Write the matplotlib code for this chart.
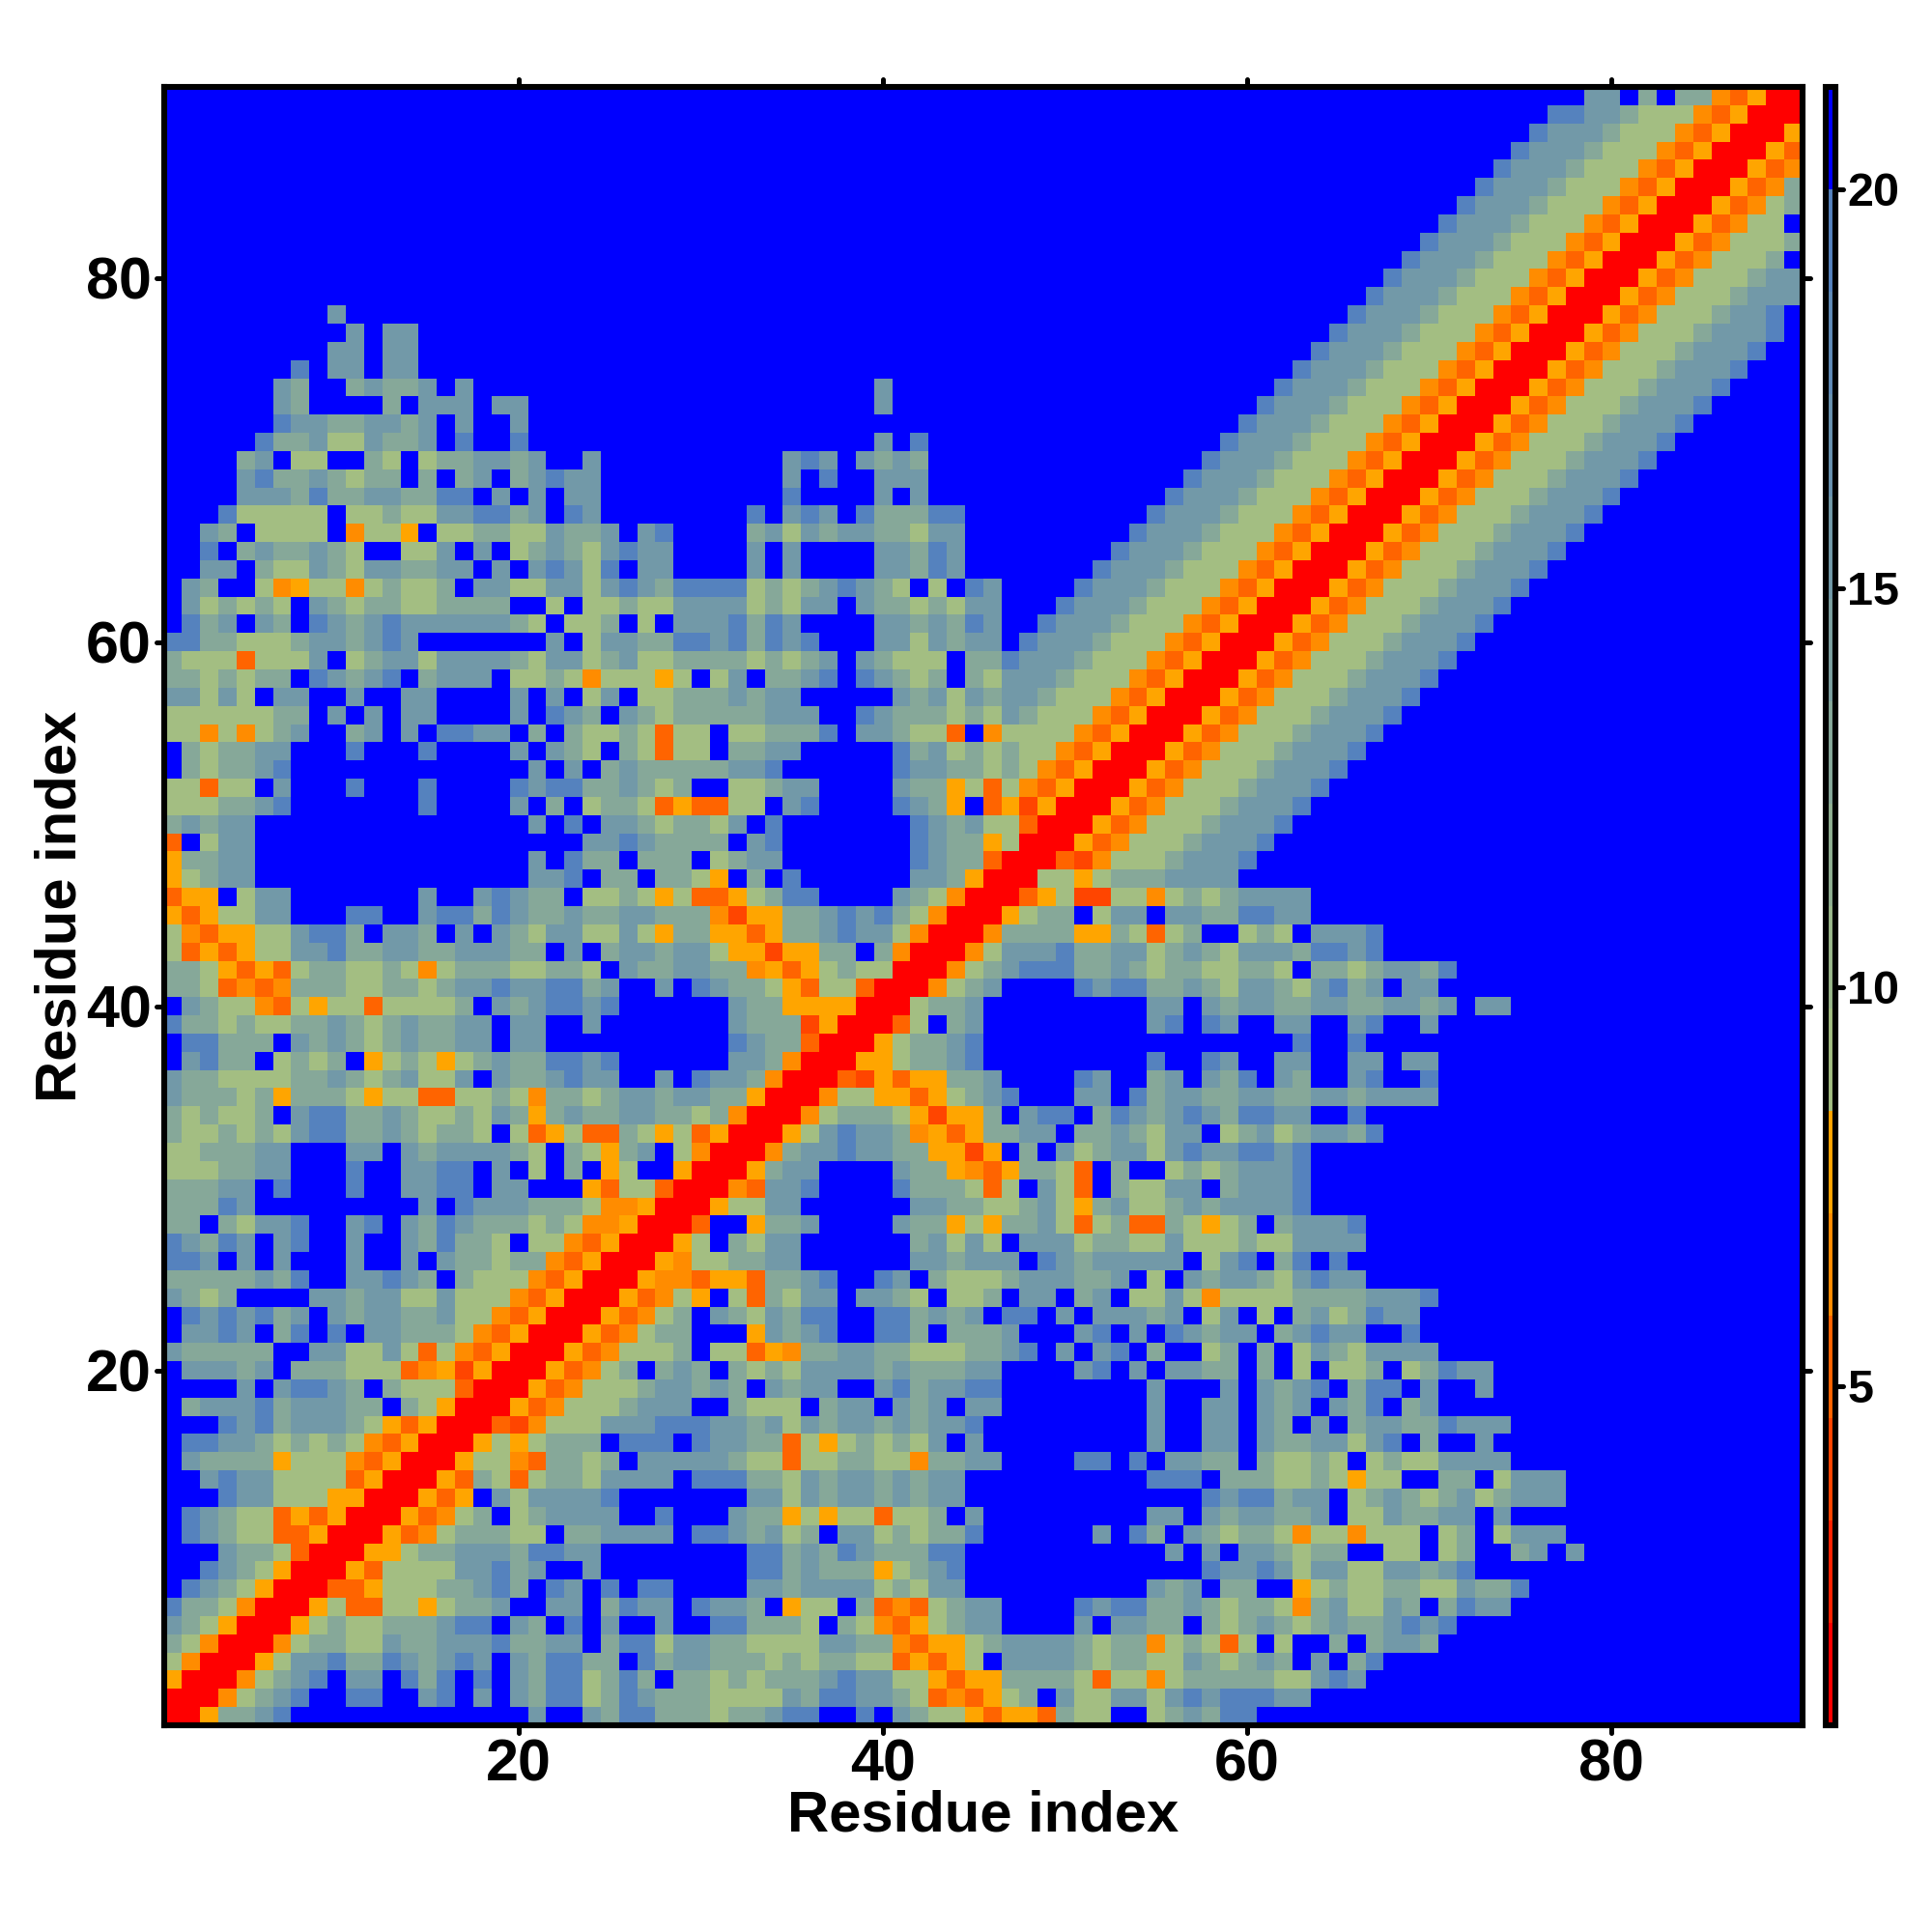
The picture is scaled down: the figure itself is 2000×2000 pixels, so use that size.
import numpy as np
import matplotlib
matplotlib.use("Agg")
import matplotlib.pyplot as plt
from matplotlib.colors import ListedColormap, BoundaryNorm
from matplotlib.markers import MarkerStyle, TICKUP, TICKDOWN, TICKLEFT, TICKRIGHT

plt.rcParams['font.family'] = ['Liberation Sans', 'DejaVu Sans']
plt.rcParams['font.weight'] = 'bold'

AXIS_LABEL = "Residue index"
TICKS = [20, 40, 60, 80]
CBAR_TICKS = [5, 10, 15, 20]
Z_MIN, Z_MAX = 0.75, 21.28
BAND_COLORS = ['#FF0000', '#FF2200', '#FF4500', '#FF6400', '#FF8C00', '#FFA500',
               '#A3BE82', '#99B78A', '#8FAF91', '#86A899', '#7CA0A0', '#7299A8',
               '#6891AF', '#5F8AB7', '#5582BE', '#0000FF']
# distance read for each symbol of the matrix below
CELL_VALUES = {'R': 1.4, 'x': 4.0, 'o': 5.2, 'O': 6.5, 'y': 7.8,
               'g': 9.1, 'h': 12.9, 'm': 15.5, 'k': 19.3, '.': 20.6}

# one line per residue, top line = residue 90; groups of ten cells, "_" = ten cells of '.'
CONTACT_ROWS = [
"_ _ _ _ _ _ _ ........mm .h.hhOoyRR",
"_ _ _ _ _ _ _ ......kkmm hgggOoyRRR",
"_ _ _ _ _ _ _ .....kmmmh gggOoyRRRy",
"_ _ _ _ _ _ _ ....kmmmhg ggOoyRRRyo",
"_ _ _ _ _ _ _ ...kmmmhgg gOoyRRRyoO",
"_ _ _ _ _ _ _ ..kmmmhggg OoyRRRyoOh",
"_ _ _ _ _ _ _ .kmmmhgggO oyRRRyoOgh",
"_ _ _ _ _ _ _ kmmmhgggOo yRRRyoOgg.",
"_ _ _ _ _ _ .........k mmmhgggOoy RRRyoOgggh",
"_ _ _ _ _ _ ........km mmhgggOoyR RRyoOgggh.",
"_ _ _ _ _ _ .......kmm mhgggOoyRR RyoOggghmm",
"_ _ _ _ _ _ ......kmmm hgggOoyRRR yoOggghmmm",
".........m _ _ _ _ _ .....kmmmh gggOoyRRRy oOggghmmk.",
"_ m.mm...... _ _ _ _ ....kmmmhg ggOoyRRRyo Oggghmmmk.",
".........m m.mm...... _ _ _ _ ...kmmmhgg gOoyRRRyoO ggghmmmk..",
".......k.m m.mm...... _ _ _ _ ..kmmmhggg OoyRRRyoOg gghmmmk...",
"......mh.. hmhhm.m... _ .........m _ _ .kmmmhgggO oyRRRyoOgg ghmmmk....",
"......mh.. ..h.mmm.mm _ .........m _ _ kmmmhgggOo yRRRyoOggg hmmmk.....",
"......kmmh hmmhm.m..m _ _ _ .........k mmmhgggOoy RRRyoOgggh mmmk......",
".....khhmg gmhhm.k..k _ .........m .k........ ........km mmhgggOoyR RRyoOggghm mmk.......",
"....hm.gg. .hg.ghhmmh m..m...... ....mkm.mh mh........ .......kmm mhgggOoyRR RyoOggghmm mk........",
"....mkhhmh ghh.h.hm.h mkmm...... ....m.k..m mm........ ......kmmm hgggOoyRRR yoOggghmmm k.........",
"....mmmhkh hmmhhkk.m. m.mm...... ....k....m .m........ .....kmmmh gggOoyRRRy oOggghmmmk _",
"...kggggg. gghggmmkkh m.km...... ..k.mkm.kh hhkk...... ....kmmmhg ggOoyRRRyo Oggghmmmk. _",
"..mh.gggg. Oggy.gghhg gmhhm.mk.. ..hmgmhmmh hgmm...... ...kmmmhgg gOoyRRRyoO ggghmmmk.. _",
"..k.hmhhmh g..ggm.m.g hmhgmkmm.. ..m.m....m mhkm...... ..kmmmhggg OoyRRRyoOg gghmmmk... _",
"..mm.hggmh gmmhhmm.m. mkmgk.mm.. ..m.m....m mhkm...... .kmmmhgggO oyRRRyoOgg ghmmmk.... _",
".mh..gOygg Oghggh.mmg gmmgmkmhkk kkghghmkmh g.g.km.... kmmmhgggOo yRRRyoOggg hmmmk..... _",
".mghghg.mh ghhgghhhh. .g.gghggmm mmghgmm.mh hghgmm...k mmmhgggOoy RRRyoOgggh mmmk...... _",
".khm.mh.km hmkmmmmmmh g.ggh.g.mm mkhkm....m mhmhkm..km mmhgggOoyR RRyoOggghm mmk....... _",
"kkhhggghmm hmkm...... .m.gmmhhkk mkhkmk...m mgmhmm.kmm mhgggOoyRR RyoOggghmm mk........ _",
"hgggogggm. ghmmgmmmmh gmmghmgghh hhghghm.mh ggg.hhkmmm hgggOoyRRR yoOggghmmm k......... _",
"hhghghh.km hmk.hmmm.g ghgOgggyg. gm.hhmk.km hgh.hgmmmh gggOoyRRRy oOggghmmmk _ _",
"mmgmg.mm.. m..mm....m .m.gm.gghh hmhmm..... mhmgmhmmhg ggOoyRRRyo Oggghmmmk. _ _",
"gggggghh.m .m.mm....m .kmh.mhghh hhhmmm..km hhhghgmhgg gOoyRRRyoO ggghmmmk.. _ _",
"ggOgOghm.. hm.m.kkmm. h.hgghgogg .gghhhk.mm hggo.Ogggg OoyRRRyoOg gghmmmk... _ _",
".hghhmm... k...k....m .mhg.hgogg .hhmm..... khmghghggO oyRRRyoOgg ghmmmk.... _ _",
".hghhmk... _ m.m.hmhhhh hmmk...... kmmhhghgOo yRRRyoOggg hmmmk..... _ _",
"ggogg.m... k...k....k mkkhhmhgh. .gghmm.... mhhygogOoy RRRyoOgggh mmmk...... _ _",
"ggghhmk... ....k....m .h.ghhgoyo ogg.mk.... kmhy.oyxyR RRyoOggghm mmk....... _ _",
"hmhmm..... _ m.k.mmhghh gm.k...... .kmhmggoRR RyoOggghmm mk........ _ _",
"o.gmm..... _ ...mmkmhhh h.mk...... .kmhhygRRR yoOggghmmm k......... _ _",
"yhhmm..... _ m.khh.hhh. ghmm...... .kmhhoRRRo xOggghmmmk _ _ _",
"yghmm..... _ mmk.hh.hhg y.h.k..... .mmhyRRRgg yghhhmmmm. _ _ _",
"oyy.gmm... ....m..mkm hh.gghgygo oyghkk.... mhgORRRoyg xxggOghghm mmm....... _ _",
"yoyggmm... kk..mkkhkm hhmhhmmhhh Oxyyhhmkmk hgORRRyghh .gmm.mmhhk kmm....... _ _",
"gOoyyggmkk h.mmh.m.mh gmmggmgyhh yyoyhhmkmm gORRROhhhh yyhgogh..g hg.mmmk... _ _",
"goyoyggmmk hhmmhhmmmh h.m.hmmhmm gyyxyyhh.h ORRROgmmmk hhmmghmhgm mmhkkmk... _ _",
"hhgyoyoghh gghgOghhhg ghhg.mhhmm hhOyoyghgg RRROghmkkk hhmhghhggh hg.hhghmmh k......... _",
"hhgoOoOhhh gghhghmmkm mkkhm..m.k mhhgyoggoR RROghm.... kmkkhhmhgm mhgmkhm.mm _ _",
".mhggOogyg goggggh.mh mkkmk..... .mhhyyyyRR Rghhm..... ....mm.mhm mhhmmhhmmh m.mm...... _",
"khhghgghhm hghmhhmm.m m..m...... .mhhhxyRRR og.hm..... ....mk.km. .mm..mk..m _ _",
".kkhhh.mhm hghmhhmm.m m......... .kmhhoRRRy ghhmk..... _ ..k..k.... _ _",
".mkhh.ghgh .yghgyghmh hkkmk..... .mmhORRRyy ghhmk..... ....k..km. .mm..mm.mm _ _",
"mhhgggghhm hghmggm.mh hmkmm..m.k mmhORRRoxy oyyhhm.... km..hm.mhk .mh..mk..k _ _",
"mhhhghyhhh gyggoogghg Ohhghmmhmm hhyRRROggy yoyghmk... mm.khmmhhm mhhmmhmmmm _ _",
"hghggh.mkk hhmhgghgmh yhmhhmmhhg hORRROghhh gyxyyh.mkk .hkmhmkmhk kmm..k.... _ _",
"hgghghgmkk hhmhghhg.g oygoohgygo yRRRygmkmm hOyoyhhmm. hhmhgmm.gh mghmmhk... _ _",
"gghhhmm... mm.mhmmmmh g.hgyhm.gO RRROhmmkmm hhyyxy.h.m ghmmgmkmmk kmk....... _ _",
"ggghhmm... k..mmkk.m. g.h.yg..yR RRyhmm.... mhhyOoyhhg o.h..ghghm mmk....... _ _",
"hhhmm.k... k..mmkk.mm ...yoggoRR ROommk.... khhhgog.mg o.hggmm.hm mmk....... _ _",
"hhhkm..... ....m.kmmm hhhgOOyRRR yggmm..... .mmhhgghmg yhmgghmhmm mmk....... _ _",
"hh.hgmmk.. mk.mhkmhhh ghgOOyRRRo ..yhhm.... mhhygyhhmg oghoohgygh .hmmmk.... _ _",
"kmhkm.mk.. m..mhkhhg. ggOoyRRRyg .hgmm..... .hmgmg.mmm ghhggmgggh ggmmmm.... _ _",
"kkm.m.m... m..m.mhhgh hOoyRRRyOg ghhmm..... .mmhmmm.km hmmmmm.gmk .hk.k..... _ _",
"hhhhhmhk.. mmkmh.hggg OoyRRRyOOo yyohhmk..k m.hggghmmm hhm.g.mhmm hgmkmm.... _ _",
"mhgh....mm hmmggmgggO oyRRRyoOgy .gohgmm.mm hg.ggh.mm. hm.ggmgOgg gghhhhmmmk _ _",
".kmkmkhm.m hmmhhmggOo yRRRyoOgh. mhgmhkk..k khmhm.kk.m .mmmhm.gm. g.hmghkmm. _ _",
".mmkm.hk.k .mmhhhgOoy RRRyoOghh. ..ymhmk..k kh.hhhm... mk.m.kmhmm .hmkmm..k. _ _",
"mhhhhh..mm ggmgogOoyR RRyoOgggh. ggoyOhhmmh hggghhmk.m .mk.h..gh. h.gmhgmmmm _ _",
".mmmhm.hhh gggoOyxyRR RyoOgh.hmh .hghgmmmmh mhhhmm.... mk.m.mmhh. h.g.ggh.gh kmm....... _",
"....m.mkkm h.hgggoRRR yoOggghmmh mh.mhmm..m khmmkk.... ....m...m. mhmk.hkk.m ..m....... _",
".hmmmkhmmm hh.hgyRRRy oOggghmmm. .hggg.hmm. mhm.mm.... ....m..mm. mhm.mhk.hm _ _",
"...kmkhmmm hgyoyRRRox Ogggmmmkkk mmhmgmhmmh mhmmk..... ....m..mm. mh.m.hmmhh kmmm...... _",
".kkmmhghgh gOoyRRRygy ghhh.kkk.k mmhhogyghg hgm.m..... ....m..mm. mhhmmgmk.h ..m....... _",
".mhhhhyggg OoyRRRyggO ohhgh.mmmm mhggogghhg gOhhmm.... kk.k.mmhh. hgghg.ghgg mmmm...... _",
"..mkmmgggg oyRRRyohgo ghhgmmmm.k kkhhgmhmmh mhmm...... ....kkk.hh hgghgygg.. hh.gmmm... _",
"...kmmgggy yRRRyoy.mg mmmmk..... ..mmgmhmmh mhmm...... .......kmk khmm.ghmhg hmghmmm... _",
".kmhggoyoy RRRyoOgh.g hmmmm..k.. .mhhygyggo ggh.m..... ....mm.mhm mhhm.ggmhh mm.m...... _",
".kmhggooyR RRyoOghhhg g.hhmmmm.k kmhmgh.mmg hghhk..... .m.kh.mhgh hgOggOggg. gh.gmmm... _",
"...mhhgoRR Ryyghhmmmh kkmm...... ..kkhmhkmh hhkk...... .....m.m.m mhghh..gg. gh..hm.m.. _",
"..kmhgyRRR yoggggmmkh m..m...... ..kkhmhhhy ghmk...... .......kmm kmgmmggmmh mk........ _",
".kmhgyRRRo oyggghhmkh .km.k.kk.. ..mmhmmmmg hgmm...... ....mhm.hh ..yghgghhg gmhhk..... _",
"khhgORRRyg ooggyghhm. .mm.hkmm.k mmh.ygg.ho Ooghmm.... kmkkhhmhgh hgOhmggmh. hkmm...... _",
"mhgyRRRygh gghhhmkk.m h.k.m..m.. kkhhhg.hgO oyghmm.... m.mmhh.hgh mhghmhhmkm k......... _",
"hgORRROghh ggmhhmmmkh hmm.hkkgmm hhggggmmhh Ooyyghmmmm hghhOghgog .g..h.hmmh _ _",
"gORRRygmmk hhkmhmkm.m hkkhh.khmm hhhghghhgg oyoyg.mmmm hghhggmhgh mh.m.hk... _ _",
"yRRROghmk. mm.khk.k.m hkkghkh.hh ghghhhmkmm ggyoyyhhhh goggOghhhh hggmkm.... _ _",
"RRROghmk.. kk..mk.m.m hkkghkmhhh ggggmhkkmm hgoOoygh.m ggmmgmkmkk kmm....... _ _",
"RRyhhmk... _ m..mhkkhhh ghhmkk..k. mhggyoyyoh gg..ghmhkk _ _ _",
]


def parse_row(line):
    cells = "".join("." * 10 if g == "_" else g for g in line.split())
    return [CELL_VALUES[c] for c in cells]


matrix = np.array([parse_row(r) for r in CONTACT_ROWS])[::-1]
n = matrix.shape[1]

breaks = np.linspace(Z_MIN, Z_MAX, len(BAND_COLORS) + 1)
cmap = ListedColormap(BAND_COLORS)
norm = BoundaryNorm(breaks, cmap.N)

W = 2000.0
fig = plt.figure(figsize=(10, 10), dpi=200, facecolor='white')
ax = fig.add_axes([169.5 / W, (2000 - 1786) / W, 1696.5 / W, 1696 / W])
edges = np.arange(0.5, n + 1)
mesh = ax.pcolormesh(edges, edges, matrix, cmap=cmap, norm=norm, shading='flat', linewidth=0, antialiased=False)
ax.set_xlim(0.5, 90.5)
ax.set_ylim(0.5, 90.5)
ax.set_xticks(TICKS)
ax.set_yticks(TICKS)
ax.tick_params(axis='both', which='major', direction='out', length=3.0, width=1.8,
               labelsize=22, top=True, right=True, pad=1.5)
ax.tick_params(axis='x', pad=2.0)
for s in ax.spines.values():
    s.set_linewidth(2.2)

cax = fig.add_axes([1889.75 / W, (2000 - 1786) / W, 10.5 / W, 1696 / W])
cb = fig.colorbar(mesh, cax=cax, ticks=CBAR_TICKS, spacing='proportional')
cb.outline.set_linewidth(2.2)
cax.tick_params(axis='y', which='major', direction='out', length=2.8, width=1.8, labelsize=17.5, pad=1.5)
cax.minorticks_off()

# round tick ends, as in the reference
for axis, m1, m2 in ((ax.xaxis, TICKDOWN, TICKUP), (ax.yaxis, TICKLEFT, TICKRIGHT), (cax.yaxis, TICKLEFT, TICKRIGHT)):
    for t in axis.get_major_ticks():
        t.tick1line.set_marker(MarkerStyle(m1, capstyle='round'))
        t.tick2line.set_marker(MarkerStyle(m2, capstyle='round'))

fig.text(1018 / W, 1 - 1880 / W, AXIS_LABEL, ha='center', va='center', fontsize=21.5, fontweight='bold')
fig.text(63 / W, 1 - 938 / W, AXIS_LABEL, ha='center', va='center', rotation=90, fontsize=21.5, fontweight='bold')

fig.savefig('out.png', dpi=200, facecolor='white')
